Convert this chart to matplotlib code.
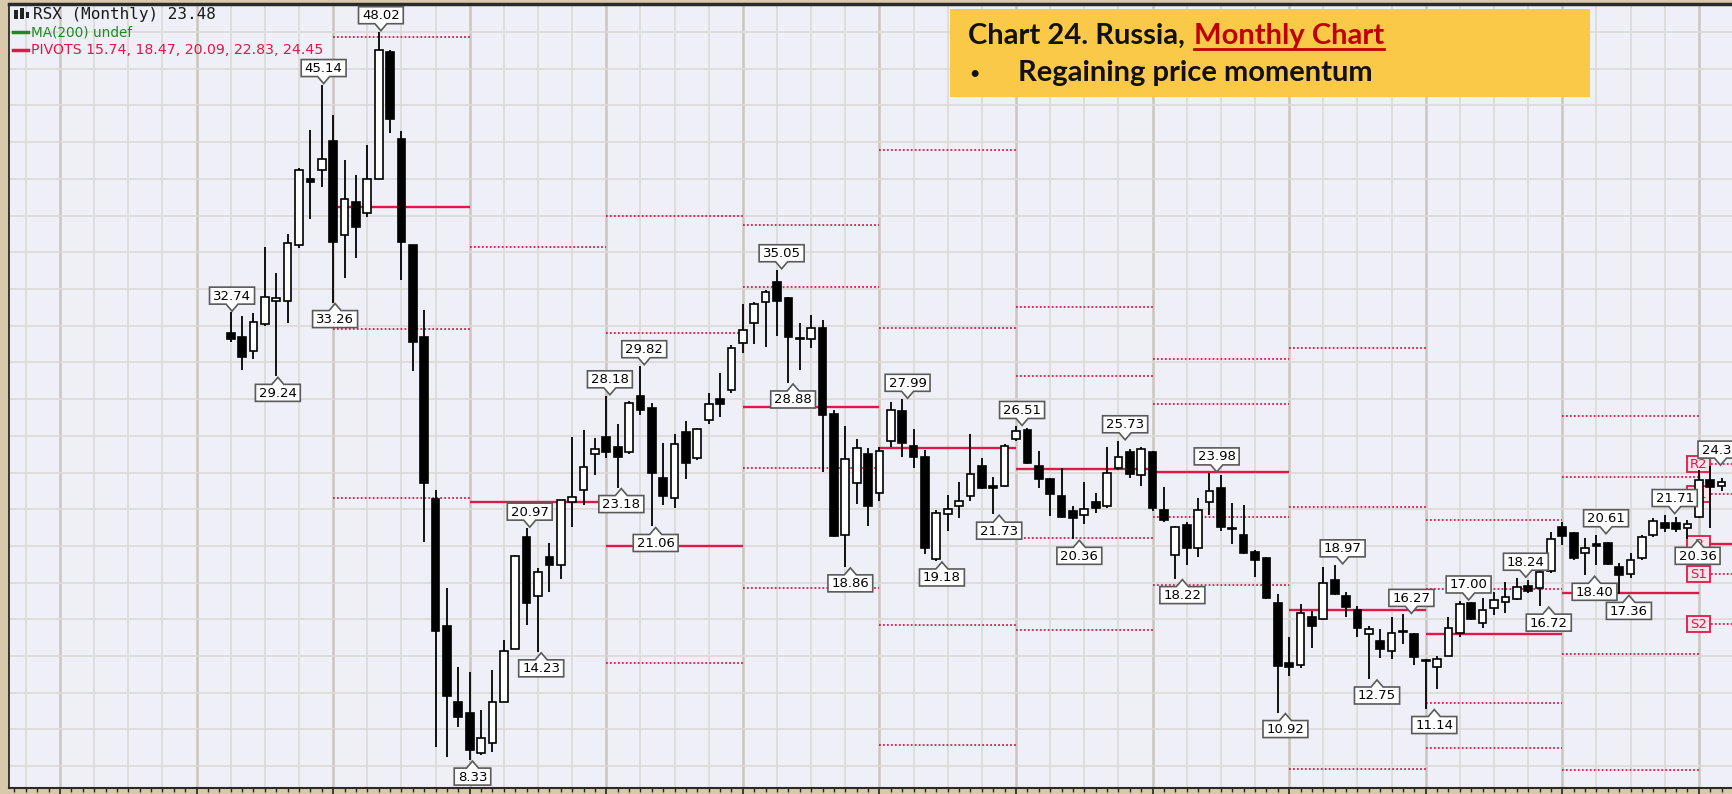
import numpy as np
import matplotlib.pyplot as plt
from matplotlib.patches import Rectangle, Polygon
from matplotlib.lines import Line2D
from matplotlib.transforms import IdentityTransform

W, H, DPI = 1733, 794, 100

# RSX monthly bars, first bar is April 2007
opens = [31.58, 31.40, 30.64, 32.09, 33.35, 33.35, 36.40, 40.01, 40.49,
         42.08, 36.94, 38.76, 38.12, 39.99, 46.90, 42.17, 36.40, 31.37, 22.55, 15.63, 11.51,
         10.87, 8.70, 9.24, 11.47, 14.36, 20.50, 17.27, 19.41, 18.96, 22.41, 23.05, 25.01,
         25.92, 25.38, 25.14, 28.19, 27.54, 23.69, 22.63, 26.19, 24.78, 26.87, 27.99, 28.50,
         31.04, 32.17, 33.31, 34.37, 33.50, 31.35, 31.30, 31.90, 27.17, 20.60, 23.45, 25.01,
         22.91, 25.72, 27.36, 25.45, 24.83, 19.27, 21.74, 22.20, 22.72, 24.38, 23.25, 23.27,
         25.81, 26.32, 24.38, 23.65, 22.74, 21.92, 21.69, 22.38, 22.20, 24.23, 25.10, 23.86,
         25.10, 21.96, 19.50, 21.14, 19.87, 22.41, 23.14, 21.00, 20.59, 19.68, 19.32, 16.91,
         13.64, 13.51, 16.14, 16.00, 18.14, 17.27, 16.51, 15.20, 14.83, 14.29, 15.35, 15.20,
         13.80, 13.42, 14.02, 15.23, 16.91, 15.82, 16.63, 16.96, 17.09, 17.81, 17.69, 18.65,
         21.01, 20.68, 19.63, 20.10, 20.14, 18.83, 18.47, 19.32, 20.59, 21.27, 21.27, 21.00,
         21.56, 23.59, 23.26]
highs = [32.74, 32.55, 32.67, 36.27, 34.85, 37.00, 40.61, 42.67, 45.14,
         43.48, 41.03, 40.21, 41.85, 48.02, 47.00, 42.63, 36.40, 32.86, 23.05, 17.72, 13.42,
         13.15, 11.06, 13.24, 14.87, 19.50, 20.97, 18.81, 20.14, 22.50, 25.95, 26.32, 25.87,
         28.18, 26.65, 27.90, 29.82, 27.81, 25.60, 26.10, 26.81, 26.45, 28.36, 29.45, 30.95,
         33.19, 33.31, 33.95, 35.05, 33.59, 32.13, 32.60, 32.30, 27.41, 26.54, 25.83, 25.32,
         25.38, 27.83, 27.99, 26.37, 25.23, 21.96, 22.78, 23.50, 26.10, 24.78, 23.78, 25.54,
         26.51, 26.45, 25.19, 23.70, 24.23, 22.18, 23.47, 22.91, 25.38, 25.73, 25.30, 25.40,
         25.20, 23.23, 21.10, 21.32, 22.59, 23.98, 23.86, 22.32, 22.23, 19.80, 19.40, 17.38,
         15.02, 16.83, 16.47, 18.87, 18.97, 17.50, 16.72, 15.63, 15.50, 16.15, 16.27, 15.25,
         13.85, 14.00, 16.11, 17.00, 16.95, 17.14, 17.50, 18.01, 18.24, 18.14, 18.65, 20.78,
         21.32, 20.75, 20.41, 20.61, 20.20, 19.05, 19.59, 20.59, 21.50, 21.71, 21.60, 21.40,
         24.14, 24.35, 23.70]
lows = [31.10, 29.60, 30.17, 32.00, 29.24, 32.17, 36.22, 37.82, 39.54,
        33.26, 34.58, 35.67, 37.94, 39.99, 42.48, 34.49, 29.55, 20.23, 9.06, 8.52, 10.15,
        8.33, 8.60, 8.79, 11.47, 14.36, 15.69, 14.23, 17.50, 18.18, 21.05, 22.23, 23.87,
        24.78, 23.18, 25.00, 27.14, 21.06, 22.23, 22.09, 23.63, 24.70, 26.65, 27.01, 28.32,
        30.54, 30.99, 30.83, 31.44, 28.88, 29.59, 30.80, 24.05, 20.50, 18.86, 22.27, 21.09,
        22.45, 25.38, 24.87, 24.23, 19.56, 19.18, 20.82, 21.50, 22.47, 23.09, 21.73, 23.23,
        25.70, 24.45, 23.18, 21.65, 21.50, 20.36, 21.20, 21.78, 22.05, 24.14, 23.68, 23.26,
        21.92, 21.32, 18.22, 18.96, 19.41, 21.68, 20.83, 20.10, 19.55, 18.32, 17.10, 10.92,
        12.91, 13.33, 14.42, 15.95, 17.30, 16.14, 15.05, 12.75, 13.87, 13.82, 14.65, 13.51,
        11.14, 12.18, 14.00, 15.05, 15.95, 15.51, 16.23, 16.36, 17.05, 17.41, 16.72, 18.55,
        20.05, 19.25, 18.40, 18.96, 18.96, 17.36, 18.23, 19.23, 20.50, 20.77, 20.75, 20.36,
        21.50, 20.96, 23.00]
closes = [31.25, 30.28, 32.18, 33.55, 33.50, 36.49, 40.49, 39.83, 41.09,
          36.58, 38.92, 37.40, 39.99, 47.02, 43.25, 36.58, 31.10, 23.41, 15.36, 11.82, 10.69,
          8.88, 9.51, 11.51, 14.29, 19.45, 16.90, 18.60, 18.96, 22.50, 22.65, 24.29, 25.29,
          25.14, 24.87, 27.81, 27.41, 23.96, 22.72, 25.56, 24.50, 26.38, 27.72, 27.74, 30.77,
          31.77, 33.19, 33.82, 33.35, 31.37, 31.30, 31.90, 27.14, 20.54, 24.74, 25.36, 22.18,
          25.18, 27.41, 25.59, 24.87, 19.91, 21.78, 22.02, 22.47, 23.92, 23.18, 23.15, 25.47,
          26.27, 24.50, 23.63, 22.83, 21.56, 21.51, 22.00, 22.05, 24.00, 24.87, 23.90, 25.26,
          22.05, 21.41, 21.05, 19.87, 21.96, 23.01, 21.01, 20.92, 19.60, 19.23, 17.14, 13.47,
          13.38, 16.36, 15.63, 17.96, 17.36, 16.69, 15.54, 15.45, 14.36, 15.27, 15.30, 13.93,
          13.75, 13.82, 15.54, 16.81, 16.00, 16.51, 17.05, 17.20, 17.78, 17.56, 18.59, 20.40,
          20.54, 19.32, 19.87, 20.00, 19.01, 18.41, 19.23, 20.50, 21.37, 20.96, 20.90, 21.20,
          23.59, 23.19, 23.48]

# bars carrying a swing-high / swing-low price tag
swing_high_bars = [0, 8, 13, 26, 33, 36, 48, 59, 69, 78, 86, 97, 103, 108, 113, 120, 126, 130]
swing_low_bars = [4, 9, 21, 27, 34, 37, 49, 54, 62, 67, 74, 83, 92, 100, 105, 115, 119, 122, 128]

# yearly floor pivots (from prior year's high / low / close)
pivot_years = [2008, 2009, 2010, 2011, 2012, 2013, 2014, 2015, 2016, 2017, 2018]
pivot_s2 = [22.59, -17.09, 1.99, 17.70, 9.17, 15.40, 17.89, 2.25, 9.00, 7.80, 15.74]
pivot_s1 = [31.84, -3.20, 13.64, 24.23, 15.67, 20.43, 21.57, 7.86, 11.46, 14.10, 18.47]
pivot_p = [38.49, 22.41, 19.98, 27.59, 25.36, 24.21, 24.04, 16.53, 15.22, 17.44, 20.09]
pivot_r1 = [47.74, 36.30, 31.63, 34.12, 31.86, 29.24, 27.72, 22.14, 17.68, 23.74, 22.83]
pivot_r2 = [54.39, 61.91, 37.97, 37.48, 41.55, 33.02, 30.19, 30.81, 21.44, 27.08, 24.45]

RED = "#e0184a"
BEIGE = "#d8c9aa"
ident = IdentityTransform()

fig = plt.figure(figsize=(W / DPI, H / DPI), dpi=DPI, facecolor=BEIGE)
ax = fig.add_axes([9 / W, 6 / H, (W - 9) / W, 784 / H])
ax.set_facecolor("#eff0f7")
ax.set_xlim(-19.48, 131.09)
ax.set_ylim(6.81, 49.53)
renderer = fig.canvas.get_renderer()

n = len(opens)
x = np.arange(n)

# grid: quarterly verticals, darker at January; horizontal every $2
for i in range(-18, n + 1, 3):
    jan = (i + 3) % 12 == 0
    ax.axvline(i, color="#cbc6bd" if jan else "#dcdad6", lw=1.8 if jan else 1.2, zorder=0)
for p in range(8, 50, 2):
    ax.axhline(p, color="#dcdad6", lw=1.2, zorder=0)

# pivot levels, one segment per calendar year
for k, yr in enumerate(pivot_years):
    x0 = 9 + 12 * (yr - 2008)
    x1 = x0 + 12
    ax.hlines(pivot_p[k], x0, x1, color=RED, lw=1.7, zorder=1)
    for lev in (pivot_r1[k], pivot_s1[k], pivot_r2[k], pivot_s2[k]):
        ax.hlines(lev, x0, x1, color=RED, lw=1.3, linestyles=(0, (1, 1.2)), zorder=1)

# current-year pivot tags
tag_right = ax.transData.transform((129, 0))[0] + 1
for name, lev in zip(["R2", "R1", "P", "S1", "S2"],
                     [pivot_r2[-1], pivot_r1[-1], pivot_p[-1], pivot_s1[-1], pivot_s2[-1]]):
    py = ax.transData.transform((0, lev))[1]
    ax.add_patch(Rectangle((tag_right - 23, py - 8), 23, 16, transform=ident,
                           facecolor="#fbe3e9", edgecolor=RED, lw=1.3, zorder=2))
    ax.text(tag_right - 11.5, py - 0.5, name, transform=ident, color=RED, fontsize=9.5,
            ha="center", va="center", zorder=2)

# candles
o, h, l, c = map(np.array, (opens, highs, lows, closes))
up = c >= o
body_lo = np.minimum(o, c)
body_h = np.maximum(np.abs(c - o), 0.05)
ax.vlines(x, l, h, color="black", lw=1.3, zorder=3)
ax.bar(x[up], body_h[up], bottom=body_lo[up], width=0.68, facecolor="white",
       edgecolor="black", lw=1.2, zorder=4)
ax.bar(x[~up], body_h[~up], bottom=body_lo[~up], width=0.68, facecolor="black",
       edgecolor="black", lw=1.2, zorder=4)


def callout(i, price, above):
    px, py = ax.transData.transform((i, price))
    txt = ax.text(px, py, f"{price:.2f}", transform=ident, fontsize=9.5, color="black",
                  ha="center", va="center", zorder=7)
    w = txt.get_window_extent(renderer).width + 7
    hb, nh, nw = 17, 7, 6
    s = 1 if above else -1
    y0 = py + s
    yb = y0 + s * nh
    verts = [(px, y0), (px + nw, yb), (px + w / 2, yb), (px + w / 2, yb + s * hb),
             (px - w / 2, yb + s * hb), (px - w / 2, yb), (px - nw, yb)]
    ax.add_patch(Polygon(verts, closed=True, transform=ident, facecolor="white",
                         edgecolor="#5a5a5a", lw=1.2, zorder=6, clip_on=False))
    txt.set_y(yb + s * hb / 2 - 0.5)


for i in swing_high_bars:
    callout(i, highs[i], True)
for i in swing_low_bars:
    callout(i, lows[i], False)

# x axis: monthly ticks, years at January
year_bars = [i for i in range(-19, n + 1) if (i + 3) % 12 == 0]
ax.set_xticks(year_bars)
ax.set_xticklabels([str(2007 + (i + 3) // 12) for i in year_bars])
ax.set_xticks(range(-19, n + 1), minor=True)
ax.tick_params(axis="x", which="major", length=6, width=1.2, color="#222222",
               labelsize=9, pad=1)
ax.tick_params(axis="x", which="minor", length=3, width=1, color="#222222")
ax.set_yticks([])
for side in ("left", "bottom", "top"):
    ax.spines[side].set_color("#2a2a2a")
ax.spines["left"].set_linewidth(1.3)
ax.spines["bottom"].set_linewidth(1.5)
ax.spines["top"].set_linewidth(2.5)
ax.spines["right"].set_visible(False)


def top(y):
    return H - y


# legend block, top left
for (bx, by, bw, bh) in [(14, 10, 4, 9), (20, 8, 4, 11), (26, 12, 3, 6)]:
    fig.add_artist(Rectangle((bx, top(by + bh)), bw, bh, transform=ident,
                             facecolor="#222222", edgecolor="none"))
fig.text(33, top(14), f"RSX (Monthly) {closes[-1]:.2f}", transform=ident,
         family="DejaVu Sans Mono", fontsize=11.5, color="#1a1a1a", va="center")
fig.add_artist(Line2D([13, 28], [top(32), top(32)], transform=ident, color="#1f8a1f", lw=2.5))
fig.text(31, top(32), "MA(200) undef", transform=ident, fontsize=9.8,
         color="#1f8a1f", va="center")
fig.add_artist(Line2D([13, 28], [top(50), top(50)], transform=ident, color=RED, lw=2.5))
fig.text(31, top(50), "PIVOTS " + ", ".join(f"{v:.2f}" for v in
                                             (pivot_s2[-1], pivot_s1[-1], pivot_p[-1],
                                              pivot_r1[-1], pivot_r2[-1])),
         transform=ident, fontsize=10.2, color=RED, va="center")

# title box
fig.add_artist(Rectangle((950, top(97)), 640, 88, transform=ident,
                         facecolor="#f9c947", edgecolor="none", zorder=8))
t1 = fig.text(968, top(44), "Chart 24. Russia,", transform=ident, family="Lato",
              fontweight="bold", fontsize=21, color="#111111", va="baseline", zorder=9)
bb = t1.get_window_extent(renderer)
x2 = bb.x1 + 9
t2 = fig.text(x2, top(44), "Monthly Chart", transform=ident, family="Lato",
              fontweight="bold", fontsize=21, color="#c00000", va="baseline", zorder=9)
bb2 = t2.get_window_extent(renderer)
fig.add_artist(Line2D([x2, bb2.x1], [top(48.5), top(48.5)], transform=ident,
                      color="#c00000", lw=2, zorder=9))
fig.text(968, top(81), "\u2022", transform=ident, family="DejaVu Sans", fontweight="bold",
         fontsize=14, color="#111111", va="baseline", zorder=9)
fig.text(1018, top(81), "Regaining price momentum", transform=ident, family="Lato",
         fontweight="bold", fontsize=21, color="#111111", va="baseline", zorder=9)

fig.savefig("out.png", dpi=DPI, facecolor=fig.get_facecolor())
